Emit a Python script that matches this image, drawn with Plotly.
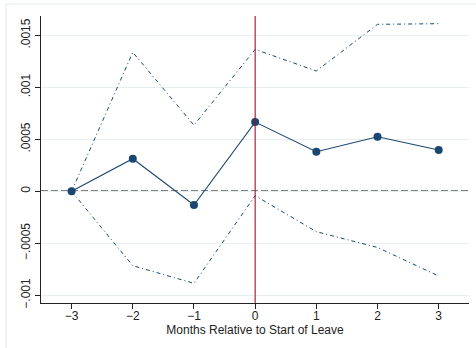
import plotly.graph_objects as go

months = [-3, -2, -1, 0, 1, 2, 3]
estimate = [0.0, 0.000313, -0.000132, 0.000666, 0.000381, 0.000525, 0.000397]
ci_upper = [0.0, 0.001337, 0.000636, 0.001365, 0.001157, 0.001606, 0.001612]
ci_lower = [0.0, -0.000715, -0.000885, -0.000042, -0.000388, -0.000540, -0.000815]

x_ticks = [-3, -2, -1, 0, 1, 2, 3]
x_ticktext = ["\u22123", "\u22122", "\u22121", "0", "1", "2", "3"]
y_ticks = [-0.001, -0.0005, 0, 0.0005, 0.001, 0.0015]
y_ticktext = ["\u2212.001", "\u2212.0005", "0", ".0005", ".001", ".0015"]
x_title = "Months Relative to Start of Leave"

navy = "#1a476f"
x_range = [-3.5, 3.495]
y_range = [-0.001074, 0.001686]

fig = go.Figure()
fig.add_trace(go.Scatter(x=months, y=ci_upper, mode="lines",
                         line=dict(color=navy, width=1, dash="4px,3px,1px,3px"),
                         showlegend=False, hoverinfo="skip"))
fig.add_trace(go.Scatter(x=months, y=ci_lower, mode="lines",
                         line=dict(color=navy, width=1, dash="4px,3px,1px,3px"),
                         showlegend=False, hoverinfo="skip"))
fig.add_trace(go.Scatter(x=months, y=estimate, mode="lines+markers",
                         line=dict(color=navy, width=1.1),
                         marker=dict(color=navy, size=8),
                         showlegend=False))

# zero reference line (dashed) and event line at 0
fig.add_shape(type="line", xref="paper", yref="y", x0=0, x1=1, y0=0, y1=0,
              line=dict(color="black", width=1.6, dash="7px,3px"), layer="between")
fig.add_shape(type="line", xref="x", yref="paper", x0=0, x1=0, y0=0, y1=1,
              line=dict(color="#a0102e", width=1.1), layer="above")

# faint outer graph-region border (top and left)
fig.add_shape(type="line", xref="paper", yref="paper",
              x0=(6 - 41) / 428, x1=1.05, y0=1 + (16 - 4) / 287, y1=1 + (16 - 4) / 287,
              line=dict(color="#e4ecee", width=1.2))
fig.add_shape(type="line", xref="paper", yref="paper",
              x0=(6 - 41) / 428, x1=(6 - 41) / 428, y0=1 + (16 - 4) / 287, y1=-0.2,
              line=dict(color="#e4ecee", width=1.2))

fig.update_layout(
    width=476, height=348,
    margin=dict(l=41, r=7, t=16, b=45, autoexpand=False),
    paper_bgcolor="white", plot_bgcolor="white",
    font=dict(family="Liberation Sans, Arial, sans-serif", size=12, color="#222"),
)
fig.update_xaxes(range=x_range, tickvals=x_ticks, ticktext=x_ticktext,
                 showgrid=False, zeroline=False, automargin=False,
                 showline=True, linecolor="#222", linewidth=1.3,
                 ticks="outside", ticklen=5, tickcolor="#222",
                 ticklabelstandoff=-4,
                 title=dict(text=x_title, font=dict(size=12), standoff=1))
fig.update_yaxes(range=y_range, tickvals=y_ticks, ticktext=y_ticktext,
                 tickangle=-90, showgrid=True, gridcolor="#e8eff0", gridwidth=1,
                 zeroline=False, automargin=False,
                 showline=True, linecolor="#222", linewidth=1.3,
                 ticks="outside", ticklen=5, tickcolor="#222")

fig.write_html("out.html", config={"displayModeBar": False},
               post_script="document.body.style.margin='0';document.body.style.overflow='hidden';")
